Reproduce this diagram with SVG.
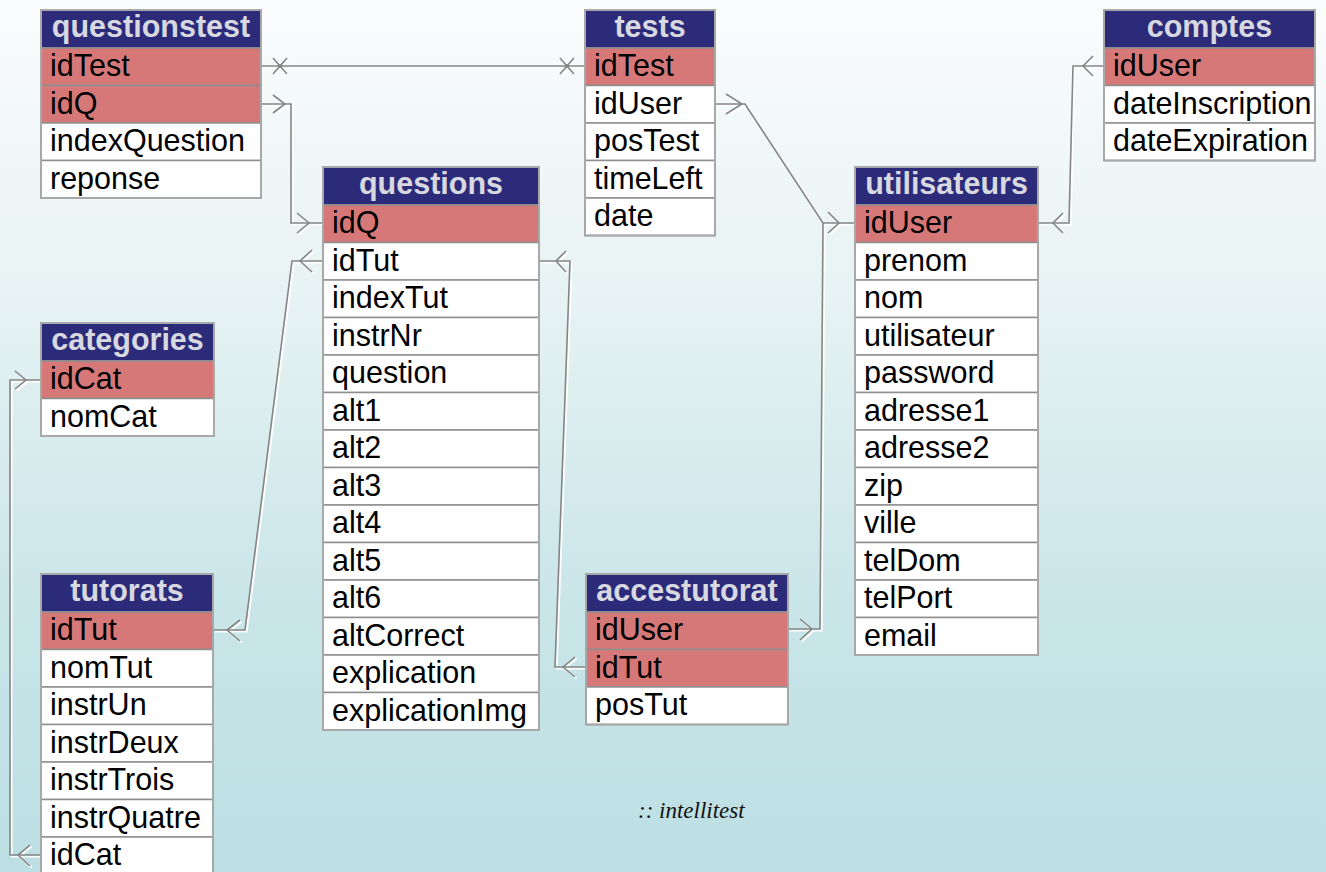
<svg xmlns="http://www.w3.org/2000/svg" width="1326" height="872" viewBox="0 0 1326 872">
<defs>
<linearGradient id="bg" x1="0" y1="0" x2="0" y2="1">
<stop offset="0" stop-color="#fbfcfd"/>
<stop offset="0.35" stop-color="#e6f2f3"/>
<stop offset="0.7" stop-color="#c9e5e8"/>
<stop offset="1" stop-color="#bcdfe3"/>
</linearGradient>
</defs>
<style>
.hd{fill:#2b2b79;stroke:#9a9a9a;stroke-width:1.5}
.pk{fill:#d67878;stroke:#8e8e8e;stroke-width:1.5}
.fd{fill:#ffffff;stroke:#8e8e8e;stroke-width:1.5}
.ob{fill:none;stroke:#a8a8a8;stroke-width:2}
.ht{font-family:"Liberation Sans",Arial,sans-serif;font-weight:bold;font-size:30.5px;fill:#d8d8e0;text-anchor:middle}
.rt{font-family:"Liberation Sans",Arial,sans-serif;font-size:30.5px;fill:#000000}
.halo{fill:none;stroke:#ffffff;stroke-width:2;stroke-opacity:0.95}
.ln{fill:none;stroke:#858585;stroke-width:1.6}
.cap{font-family:"Liberation Serif","Times New Roman",serif;font-style:italic;font-size:23px;fill:#111111}
</style>
<rect x="0" y="0" width="1326" height="872" fill="url(#bg)"/>

<g id="connectors">
<g transform="translate(1.6,1.6)" class="halo">
<path d="M261,66 H585"/>
<path d="M261,104 H291 V223 H323"/>
<path d="M715,104 H745 L823,223 H855"/>
<path d="M1104,66 H1073 L1069,223 H1038"/>
<path d="M788,629 H820 L823,223"/>
<path d="M539,261 H570 L555,667 H586"/>
<path d="M323,261 H292 L245,630 H213"/>
<path d="M41,380 H10 V855 H41"/>
<path d="M273,58 L287,74 M273,74 L287,58 M560,58 L574,74 M560,74 L574,58"/>
<path d="M273,95 L285,104 L273,113 M297,213 L309,223 L297,233"/>
<path d="M726,94 L742,104 L726,114 M828,212 L839,223 L828,233"/>
<path d="M1093,56 L1083,66 L1093,76 M1063,213 L1053,223 L1063,233"/>
<path d="M800,619 L812,629 L800,640"/>
<path d="M566,251 L556,261 L566,272 M575,657 L563,667 L575,677"/>
<path d="M312,250 L300,261 L312,272 M240,620 L227,630 L240,641"/>
<path d="M15,371 L26,380 L15,389 M30,845 L18,855 L30,866"/>
</g>
<g class="ln">
<path d="M261,66 H585"/>
<path d="M261,104 H291 V223 H323"/>
<path d="M715,104 H745 L823,223 H855"/>
<path d="M1104,66 H1073 L1069,223 H1038"/>
<path d="M788,629 H820 L823,223"/>
<path d="M539,261 H570 L555,667 H586"/>
<path d="M323,261 H292 L245,630 H213"/>
<path d="M41,380 H10 V855 H41"/>
<path d="M273,58 L287,74 M273,74 L287,58 M560,58 L574,74 M560,74 L574,58"/>
<path d="M273,95 L285,104 L273,113 M297,213 L309,223 L297,233"/>
<path d="M726,94 L742,104 L726,114 M828,212 L839,223 L828,233"/>
<path d="M1093,56 L1083,66 L1093,76 M1063,213 L1053,223 L1063,233"/>
<path d="M800,619 L812,629 L800,640"/>
<path d="M566,251 L556,261 L566,272 M575,657 L563,667 L575,677"/>
<path d="M312,250 L300,261 L312,272 M240,620 L227,630 L240,641"/>
<path d="M15,371 L26,380 L15,389 M30,845 L18,855 L30,866"/>
</g>
<circle cx="280" cy="66" r="2" fill="#858585"/>
<circle cx="567" cy="66" r="2" fill="#858585"/>
</g>

<g id="questionstest">
<rect class="hd" x="41" y="10" width="220" height="38"/>
<rect class="pk" x="41" y="48" width="220" height="37.5"/>
<rect class="pk" x="41" y="85.5" width="220" height="37.5"/>
<rect class="fd" x="41" y="123" width="220" height="37.5"/>
<rect class="fd" x="41" y="160.5" width="220" height="37.5"/>
<rect class="ob" x="41" y="10" width="220" height="188"/>
<text class="ht" x="151" y="37">questionstest</text>
<text class="rt" x="50" y="76">idTest</text>
<text class="rt" x="50" y="113.5">idQ</text>
<text class="rt" x="50" y="151">indexQuestion</text>
<text class="rt" x="50" y="188.5">reponse</text>
</g>

<g id="tests">
<rect class="hd" x="585" y="10" width="130" height="38"/>
<rect class="pk" x="585" y="48" width="130" height="37.5"/>
<rect class="fd" x="585" y="85.5" width="130" height="37.5"/>
<rect class="fd" x="585" y="123" width="130" height="37.5"/>
<rect class="fd" x="585" y="160.5" width="130" height="37.5"/>
<rect class="fd" x="585" y="198" width="130" height="37.5"/>
<rect class="ob" x="585" y="10" width="130" height="225.5"/>
<text class="ht" x="650" y="37">tests</text>
<text class="rt" x="594" y="76">idTest</text>
<text class="rt" x="594" y="113.5">idUser</text>
<text class="rt" x="594" y="151">posTest</text>
<text class="rt" x="594" y="188.5">timeLeft</text>
<text class="rt" x="594" y="226">date</text>
</g>

<g id="comptes">
<rect class="hd" x="1104" y="10" width="211" height="38"/>
<rect class="pk" x="1104" y="48" width="211" height="37.5"/>
<rect class="fd" x="1104" y="85.5" width="211" height="37.5"/>
<rect class="fd" x="1104" y="123" width="211" height="37.5"/>
<rect class="ob" x="1104" y="10" width="211" height="150.5"/>
<text class="ht" x="1209.5" y="37">comptes</text>
<text class="rt" x="1113" y="76">idUser</text>
<text class="rt" x="1113" y="113.5">dateInscription</text>
<text class="rt" x="1113" y="151">dateExpiration</text>
</g>

<g id="questions">
<rect class="hd" x="323" y="167" width="216" height="38"/>
<rect class="pk" x="323" y="205" width="216" height="37.5"/>
<rect class="fd" x="323" y="242.5" width="216" height="37.5"/>
<rect class="fd" x="323" y="280" width="216" height="37.5"/>
<rect class="fd" x="323" y="317.5" width="216" height="37.5"/>
<rect class="fd" x="323" y="355" width="216" height="37.5"/>
<rect class="fd" x="323" y="392.5" width="216" height="37.5"/>
<rect class="fd" x="323" y="430" width="216" height="37.5"/>
<rect class="fd" x="323" y="467.5" width="216" height="37.5"/>
<rect class="fd" x="323" y="505" width="216" height="37.5"/>
<rect class="fd" x="323" y="542.5" width="216" height="37.5"/>
<rect class="fd" x="323" y="580" width="216" height="37.5"/>
<rect class="fd" x="323" y="617.5" width="216" height="37.5"/>
<rect class="fd" x="323" y="655" width="216" height="37.5"/>
<rect class="fd" x="323" y="692.5" width="216" height="37.5"/>
<rect class="ob" x="323" y="167" width="216" height="563"/>
<text class="ht" x="431" y="194">questions</text>
<text class="rt" x="332" y="233">idQ</text>
<text class="rt" x="332" y="270.5">idTut</text>
<text class="rt" x="332" y="308">indexTut</text>
<text class="rt" x="332" y="345.5">instrNr</text>
<text class="rt" x="332" y="383">question</text>
<text class="rt" x="332" y="420.5">alt1</text>
<text class="rt" x="332" y="458">alt2</text>
<text class="rt" x="332" y="495.5">alt3</text>
<text class="rt" x="332" y="533">alt4</text>
<text class="rt" x="332" y="570.5">alt5</text>
<text class="rt" x="332" y="608">alt6</text>
<text class="rt" x="332" y="645.5">altCorrect</text>
<text class="rt" x="332" y="683">explication</text>
<text class="rt" x="332" y="720.5">explicationImg</text>
</g>

<g id="utilisateurs">
<rect class="hd" x="855" y="167" width="183" height="38"/>
<rect class="pk" x="855" y="205" width="183" height="37.5"/>
<rect class="fd" x="855" y="242.5" width="183" height="37.5"/>
<rect class="fd" x="855" y="280" width="183" height="37.5"/>
<rect class="fd" x="855" y="317.5" width="183" height="37.5"/>
<rect class="fd" x="855" y="355" width="183" height="37.5"/>
<rect class="fd" x="855" y="392.5" width="183" height="37.5"/>
<rect class="fd" x="855" y="430" width="183" height="37.5"/>
<rect class="fd" x="855" y="467.5" width="183" height="37.5"/>
<rect class="fd" x="855" y="505" width="183" height="37.5"/>
<rect class="fd" x="855" y="542.5" width="183" height="37.5"/>
<rect class="fd" x="855" y="580" width="183" height="37.5"/>
<rect class="fd" x="855" y="617.5" width="183" height="37.5"/>
<rect class="ob" x="855" y="167" width="183" height="488"/>
<text class="ht" x="946.5" y="194">utilisateurs</text>
<text class="rt" x="864" y="233">idUser</text>
<text class="rt" x="864" y="270.5">prenom</text>
<text class="rt" x="864" y="308">nom</text>
<text class="rt" x="864" y="345.5">utilisateur</text>
<text class="rt" x="864" y="383">password</text>
<text class="rt" x="864" y="420.5">adresse1</text>
<text class="rt" x="864" y="458">adresse2</text>
<text class="rt" x="864" y="495.5">zip</text>
<text class="rt" x="864" y="533">ville</text>
<text class="rt" x="864" y="570.5">telDom</text>
<text class="rt" x="864" y="608">telPort</text>
<text class="rt" x="864" y="645.5">email</text>
</g>

<g id="categories">
<rect class="hd" x="41" y="323" width="173" height="38"/>
<rect class="pk" x="41" y="361" width="173" height="37.5"/>
<rect class="fd" x="41" y="398.5" width="173" height="37.5"/>
<rect class="ob" x="41" y="323" width="173" height="113"/>
<text class="ht" x="127.5" y="350">categories</text>
<text class="rt" x="50" y="389">idCat</text>
<text class="rt" x="50" y="426.5">nomCat</text>
</g>

<g id="tutorats">
<rect class="hd" x="41" y="574" width="172" height="38"/>
<rect class="pk" x="41" y="612" width="172" height="37.5"/>
<rect class="fd" x="41" y="649.5" width="172" height="37.5"/>
<rect class="fd" x="41" y="687" width="172" height="37.5"/>
<rect class="fd" x="41" y="724.5" width="172" height="37.5"/>
<rect class="fd" x="41" y="762" width="172" height="37.5"/>
<rect class="fd" x="41" y="799.5" width="172" height="37.5"/>
<rect class="fd" x="41" y="837" width="172" height="37.5"/>
<rect class="ob" x="41" y="574" width="172" height="300.5"/>
<text class="ht" x="127" y="601">tutorats</text>
<text class="rt" x="50" y="640">idTut</text>
<text class="rt" x="50" y="677.5">nomTut</text>
<text class="rt" x="50" y="715">instrUn</text>
<text class="rt" x="50" y="752.5">instrDeux</text>
<text class="rt" x="50" y="790">instrTrois</text>
<text class="rt" x="50" y="827.5">instrQuatre</text>
<text class="rt" x="50" y="865">idCat</text>
</g>

<g id="accestutorat">
<rect class="hd" x="586" y="574" width="202" height="38"/>
<rect class="pk" x="586" y="612" width="202" height="37.5"/>
<rect class="pk" x="586" y="649.5" width="202" height="37.5"/>
<rect class="fd" x="586" y="687" width="202" height="37.5"/>
<rect class="ob" x="586" y="574" width="202" height="150.5"/>
<text class="ht" x="687" y="601">accestutorat</text>
<text class="rt" x="595" y="640">idUser</text>
<text class="rt" x="595" y="677.5">idTut</text>
<text class="rt" x="595" y="715">posTut</text>
</g>

<text class="cap" x="638" y="818">:: intellitest</text>
</svg>
